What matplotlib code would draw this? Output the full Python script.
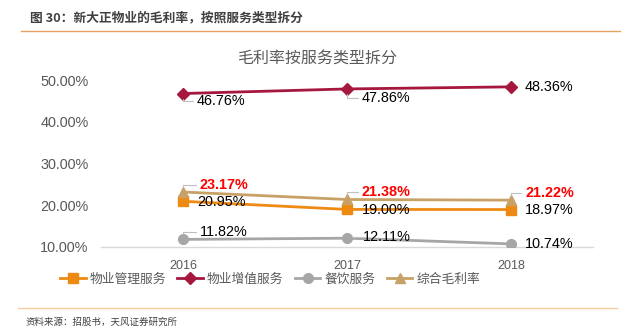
import matplotlib
matplotlib.use("Agg")
import matplotlib.pyplot as plt
from matplotlib.lines import Line2D

plt.rcParams['font.family'] = ['Liberation Sans', 'Noto Sans CJK SC', 'DejaVu Sans']

years = ['2016', '2017', '2018']
mgmt = [20.95, 19.00, 18.97]        # 物业管理服务
value_added = [46.76, 47.86, 48.36]  # 物业增值服务
catering = [11.82, 12.11, 10.74]     # 餐饮服务
overall = [23.17, 21.38, 21.22]      # 综合毛利率
series_names = ['物业管理服务', '物业增值服务', '餐饮服务', '综合毛利率']
yticks = [10, 20, 30, 40, 50]

colors = ['#EE8A12', '#A5173D', '#A6A6A6', '#C8A167']
markers = ['s', 'D', 'o', '^']
msizes = [7, 6, 7, 7]
# label offsets in pixels (dx, dy) per series per point
offsets = [
    [(14, -1), (15, -1), (14, 0)],
    [(14, -7), (15, -9), (14, 0)],
    [(17, 7), (16, 1), (14, 0)],
    [(17, 7), (15, 7), (14, 7)],
]
leaders = [
    [False, False, False],
    [True, True, False],
    [True, True, False],
    [True, True, True],
]

fig = plt.figure(figsize=(6.26, 3.35), dpi=100)
W, H = 626, 335
ax = fig.add_axes([101 / W, 1 - 247 / H, (593 - 101) / W, (247 - 80) / H])
ax.set_xlim(-0.5, 2.5)
ax.set_ylim(10, 50)

data = [mgmt, value_added, catering, overall]
x = list(range(len(years)))
order = [2, 0, 3, 1]
for i in order:
    ax.plot(x, data[i], color=colors[i], marker=markers[i], markersize=msizes[i],
            lw=2.0, zorder=3, label=series_names[i])
for i in range(4):
    for j, v in enumerate(data[i]):
        dx, dy = offsets[i][j]
        red = (i == 3)
        kw = {}
        if leaders[i][j]:
            kw['arrowprops'] = dict(arrowstyle='-', color='#BFBFBF', lw=0.8,
                                    shrinkA=1, shrinkB=4,
                                    connectionstyle='angle,angleA=0,angleB=90,rad=0',
                                    relpos=(0, 0.5))
        ax.annotate(f'{v:.2f}%', xy=(j, v), xytext=(dx, dy), textcoords='offset pixels',
                    ha='left', va='center', fontsize=10.4,
                    color='#FF0000' if red else '#000000',
                    fontweight='bold' if red else 'normal', zorder=4, **kw)

ax.set_xticks(x)
ax.set_xticklabels(years, fontsize=9, color='#595959')
ax.set_yticks(yticks)
ax.set_yticklabels([f'{t:.2f}%' for t in yticks], fontsize=10.4, color='#595959')
ax.tick_params(axis='both', length=0)
ax.tick_params(axis='x', pad=9.5)
ax.tick_params(axis='y', pad=9)
for s in ['top', 'right', 'left']:
    ax.spines[s].set_visible(False)
ax.spines['bottom'].set_color('#D9D9D9')
ax.spines['bottom'].set_linewidth(1.0)
ax.patch.set_alpha(0)

fig.text(317 / W, 1 - 58 / H, '毛利率按服务类型拆分', fontsize=11.5, color='#595959',
         ha='center', va='center', family=['Noto Sans CJK SC', 'DejaVu Sans'])

handles = [Line2D([0], [0], color=colors[i], marker=markers[i], markersize=msizes[i], lw=2.0)
           for i in range(4)]
leg = fig.legend(handles, series_names, loc='center', bbox_to_anchor=(270 / W, 1 - 279 / H),
                 ncol=4, frameon=False, handlelength=2.0, handletextpad=0.3,
                 columnspacing=0.9, prop={'family': ['Noto Sans CJK SC', 'DejaVu Sans'], 'size': 9.2})
for t in leg.get_texts():
    t.set_color('#595959')

fig.text(30 / W, 1 - 18 / H, '图 30：新大正物业的毛利率，按照服务类型拆分', fontsize=9.2,
         fontweight='bold', color='#404040', va='center', ha='left',
         family=['Noto Sans CJK SC', 'DejaVu Sans'])
fig.add_artist(Line2D([21 / W, 620 / W], [1 - 31 / H, 1 - 31 / H], color='#E8A060', lw=1.0))
fig.add_artist(Line2D([18 / W, 617 / W], [1 - 308 / H, 1 - 308 / H], color='#F8CBA0', lw=1.0))
fig.text(25 / W, 1 - 322 / H, '资料来源：招股书，天风证券研究所', fontsize=6.8, color='#404040',
         va='center', ha='left', family=['Noto Sans CJK SC', 'DejaVu Sans'])

fig.savefig('out.png', dpi=100)
